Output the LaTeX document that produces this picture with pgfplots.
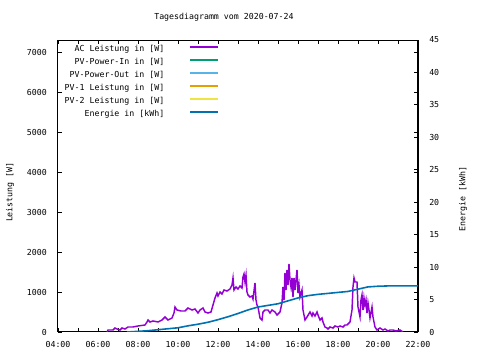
\documentclass[border=0pt]{standalone}
\usepackage{fontspec}
\setmainfont{DejaVu Sans Mono}
\usepackage{pgfplots}
\pgfplotsset{compat=1.18}
\newcommand\gf{\fontsize{6.2}{7.5}\selectfont}
\definecolor{acv}{HTML}{9400D3}
\definecolor{pvin}{HTML}{009E73}
\definecolor{pvout}{HTML}{56B4E9}
\definecolor{pvone}{HTML}{E69F00}
\definecolor{pvtwo}{HTML}{F0E442}
\definecolor{enb}{HTML}{0072B2}
\pgfplotsset{
  commonax/.style={
    scale only axis, width=270pt, height=219pt, at={(0,0)}, anchor=south west,
    xmin=4, xmax=22,
    tick align=inside, major tick length=3pt, minor tick length=3pt,
    every tick/.style={black, line width=0.6pt},
    axis line style={line width=0.75pt},
    tick label style={font=\gf},
    label style={font=\gf},
    /pgf/number format/assume math mode=true,
    /pgf/number format/set thousands separator={},
  }
}
\begin{document}
\gf
\begin{tikzpicture}
\useasboundingbox (-43.5pt,-21pt) rectangle (316.5pt,249pt);
\begin{axis}[commonax,
  ymin=0, ymax=7300,
  xtick={4,6,...,22}, minor xtick={5,7,...,21},
  xticklabels={04:00,06:00,08:00,10:00,12:00,14:00,16:00,18:00,20:00,22:00},
  ytick={0,1000,...,7000},
  xtick pos=both, xticklabel pos=bottom,
  ytick pos=both, yticklabel pos=left,
  xticklabel style={anchor=base, yshift=-12pt, inner sep=0pt},
  yticklabel style={anchor=east, inner sep=0pt, xshift=-8.25pt},
  ylabel={Leistung [W]},
  ylabel style={at={(axis description cs:-0.1333,0.479)}, rotate=0, anchor=center},
  title={Tagesdiagramm vom 2020-07-24},
  title style={at={(rel axis cs:0.461,1.0514)}, anchor=center, font=\gf},
  legend plot pos=right,
  legend cell align=right,
  legend style={draw=none, fill=none, at={(0.4583,0.992)}, anchor=north east,
    row sep=3.25pt, font=\gf,
    nodes={inner sep=0pt, text height=5pt, text depth=1.5pt}},
  legend image code/.code={\path (0pt,0pt); \draw[#1, line width=1.1pt] (18.75pt,1.8pt) -- (39.75pt,1.8pt);},
]
\addplot[color=acv, line width=1.1pt] coordinates {
(6.45,0) (6.50,50) (6.75,50) (6.85,100) (6.95,75) (7.10,50) (7.20,100) (7.35,75)
(7.50,125) (7.75,125) (8.00,150) (8.35,175) (8.45,250) (8.50,300) (8.60,250)
(8.75,275) (9.00,250) (9.20,300) (9.35,375) (9.50,300) (9.70,350) (9.80,475)
(9.85,625) (9.95,550) (10.15,525) (10.35,525) (10.50,600) (10.70,550) (10.85,575)
(11.00,475) (11.10,550) (11.25,600) (11.35,500) (11.50,475) (11.65,500) (11.75,675)
(11.85,850) (11.95,975) (12.00,900) (12.10,1000) (12.20,950) (12.30,1050) (12.45,1025)
(12.60,1075) (12.70,1175) (12.75,1350) (12.80,1050) (12.90,1125) (13.00,1075)
(13.10,1150) (13.20,1100) (13.25,1375) (13.30,1450) (13.35,1250) (13.40,1425)
(13.45,1000) (13.50,925) (13.60,875) (13.70,900) (13.75,825) (13.85,1225) (13.90,800)
(13.95,675) (14.00,625) (14.10,350) (14.20,300) (14.25,500) (14.35,550) (14.50,550)
(14.60,475) (14.70,550) (14.85,500) (14.95,425) (15.10,500) (15.20,725) (15.25,1125)
(15.30,800) (15.35,1475) (15.40,1050) (15.45,1550) (15.50,1175) (15.55,1700)
(15.60,1300) (15.65,1125) (15.70,1350) (15.75,875) (15.80,1350) (15.85,1050)
(15.95,1550) (16.00,975) (16.05,1175) (16.10,875) (16.20,1050) (16.25,550) (16.35,300)
(16.45,375) (16.60,500) (16.70,400) (16.75,475) (16.85,400) (16.95,500) (17.00,425)
(17.10,300) (17.20,350) (17.25,250) (17.35,125) (17.45,100) (17.50,75) (17.60,125)
(17.75,100) (17.85,150) (18.00,125) (18.10,150) (18.25,125) (18.35,175) (18.45,175)
(18.60,250) (18.70,550) (18.75,1125) (18.80,1350) (18.85,1250) (18.95,1250)
(19.00,625) (19.10,375) (19.15,800) (19.20,925) (19.25,550) (19.30,850) (19.35,675)
(19.40,800) (19.45,475) (19.50,725) (19.55,550) (19.60,350) (19.70,625) (19.75,375)
(19.85,125) (19.95,50) (20.10,100) (20.25,50) (20.35,75) (20.50,25) (20.60,50)
(20.75,50) (20.90,25) (21.10,50) (21.25,0)
};
\addlegendentry{AC Leistung in [W]}
\addlegendimage{color=pvin}
\addlegendentry{PV-Power-In in [W]}
\addlegendimage{color=pvout}
\addlegendentry{PV-Power-Out in [W]}
\addlegendimage{color=pvone}
\addlegendentry{PV-1 Leistung in [W]}
\addlegendimage{color=pvtwo}
\addlegendentry{PV-2 Leistung in [W]}
\addlegendimage{color=enb}
\addlegendentry{Energie in [kWh]}
\end{axis}
\begin{axis}[commonax,
  ymin=0, ymax=45,
  axis x line=none,
  axis y line*=right,
  ytick={0,5,...,45},
  yticklabel style={anchor=west, inner sep=0pt, xshift=8.25pt},
  ylabel={Energie [kWh]},
  ylabel style={at={(axis description cs:1.125,0.455)}, rotate=0, anchor=center},
]
\addplot[color=enb, line width=1.2pt] coordinates {
(7.45,0) (8.0,0.1) (8.5,0.2) (9.0,0.35) (9.5,0.5) (10.0,0.65) (10.5,0.95) (11.0,1.2)
(11.5,1.5) (12.0,1.9) (12.5,2.35) (13.0,2.85) (13.5,3.4) (14.0,3.85) (14.5,4.1)
(15.0,4.35) (15.5,4.8) (16.0,5.25) (16.5,5.6) (17.0,5.8) (17.5,5.95) (18.0,6.1)
(18.5,6.25) (19.0,6.6) (19.5,6.95) (20.0,7.05) (20.5,7.1) (22.0,7.1)
};
\end{axis}
\end{tikzpicture}
\end{document}
